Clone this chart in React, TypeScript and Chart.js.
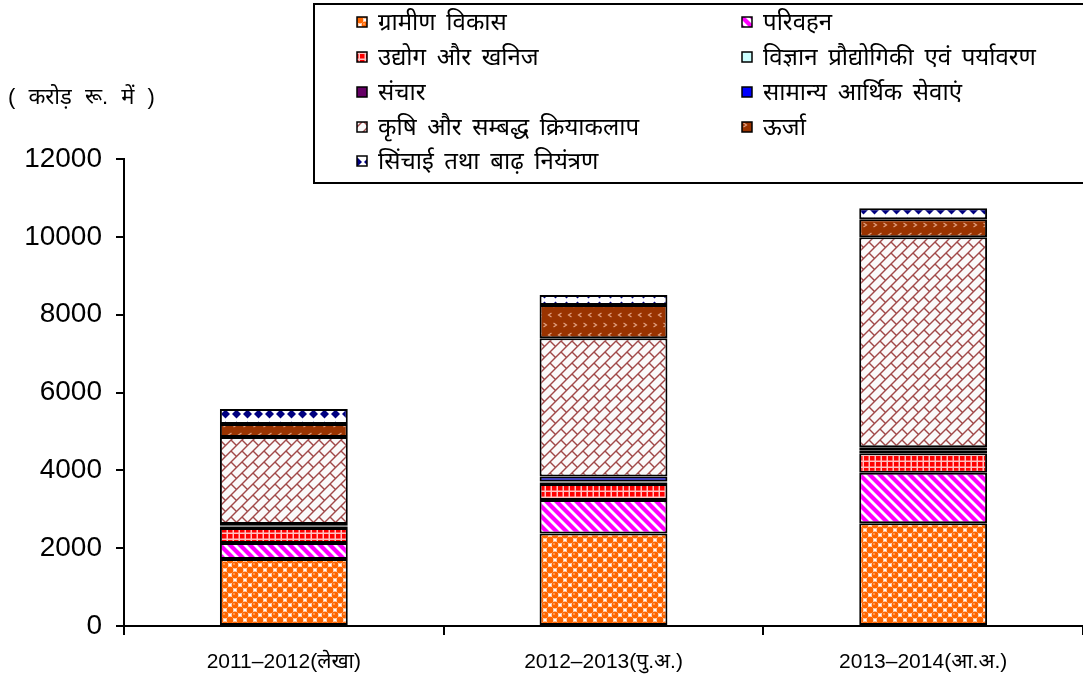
import React, { useEffect, useRef } from "react";
import { Chart, registerables } from "chart.js";

Chart.register(...registerables);

const categories = ["2011–2012(लेखा)", "2012–2013(पु.अ.)", "2013–2014(आ.अ.)"];
const rural = [1720, 2380, 2640];
const transport = [410, 860, 1300];
const industry = [385, 410, 500];
const science = [40, 40, 60];
const communication = [20, 20, 14];
const generalEco = [45, 130, 80];
const agriculture = [2235, 3555, 5396];
const energy = [334, 856, 463];
const irrigation = [386, 257, 282];
const yTicks = [0, 2000, 4000, 6000, 8000, 10000, 12000];

const names = [
  "ग्रामीण विकास",
  "परिवहन",
  "उद्योग और खनिज",
  "विज्ञान प्रौद्योगिकी एवं पर्यावरण",
  "संचार",
  "सामान्य आर्थिक सेवाएं",
  "कृषि और सम्बद्ध क्रियाकलाप",
  "ऊर्जा",
  "सिंचाई तथा बाढ़ नियंत्रण",
];
const seriesData = [rural, transport, industry, science, communication, generalEco, agriculture, energy, irrigation];

const FONT = "'Liberation Sans', Arial, 'Noto Sans', sans-serif";

function tile(w: number, h: number, draw: (c: CanvasRenderingContext2D) => void): CanvasPattern | string {
  const cv = document.createElement("canvas");
  cv.width = w;
  cv.height = h;
  const c = cv.getContext("2d")!;
  draw(c);
  const p = c.createPattern(cv, "repeat");
  return p || "#888";
}

function makePatterns(): (CanvasPattern | string)[] {
  const orange = tile(10, 10, (c) => {
    c.fillStyle = "#ffffff";
    c.fillRect(0, 0, 10, 10);
    c.fillStyle = "#ff6600";
    const pts = [[5, 5], [0, 0], [10, 0], [0, 10], [10, 10]];
    for (const [x, y] of pts) {
      c.beginPath();
      c.arc(x, y, 3.4, 0, Math.PI * 2);
      c.fill();
    }
    c.fillStyle = "#ffa060";
    c.beginPath();
    c.arc(4, 4, 1.1, 0, Math.PI * 2);
    c.fill();
  });
  const magenta = tile(10, 10, (c) => {
    c.fillStyle = "#ff00ff";
    c.fillRect(0, 0, 10, 10);
    c.strokeStyle = "#ffffff";
    c.lineWidth = 2.8;
    for (const o of [-10, 0, 10]) {
      c.beginPath();
      c.moveTo(o - 2, -2);
      c.lineTo(o + 12, 12);
      c.stroke();
    }
  });
  const red = tile(6, 6, (c) => {
    c.fillStyle = "#ff0000";
    c.fillRect(0, 0, 6, 6);
    c.fillStyle = "#ffc0c0";
    c.fillRect(4.5, 0, 1.5, 6);
    c.fillRect(0, 4.5, 6, 1.5);
  });
  const brick = tile(22, 22, (c) => {
    c.fillStyle = "#fafafa";
    c.fillRect(0, 0, 22, 22);
    c.strokeStyle = "#a04848";
    c.lineWidth = 1.4;
    for (let k = -3; k <= 6; k++) {
      const s = 11 * k;
      c.beginPath();
      c.moveTo(s + 20, -20);
      c.lineTo(s - 40, 40);
      c.stroke();
    }
    for (let k = -3; k <= 6; k++) {
      for (let j = -3; j <= 3; j++) {
        const t = (Math.abs(k) % 2) * 11 + 22 * j;
        const s1 = 11 * k;
        const s2 = 11 * (k + 1);
        c.beginPath();
        c.moveTo((s1 + t) / 2, (s1 - t) / 2);
        c.lineTo((s2 + t) / 2, (s2 - t) / 2);
        c.stroke();
      }
    }
  });
  const brown = tile(20, 20, (c) => {
    c.fillStyle = "#993300";
    c.fillRect(0, 0, 20, 20);
    c.strokeStyle = "#e0a080";
    c.lineWidth = 1.2;
    const chev = (x: number, y: number, dir: number) => {
      c.beginPath();
      c.moveTo(x - 1.5 * dir, y - 2);
      c.lineTo(x + 1.5 * dir, y);
      c.lineTo(x - 1.5 * dir, y + 2);
      c.stroke();
    };
    chev(5, 5, 1);
    chev(15, 5, 1);
    chev(10, 15, -1);
    chev(0, 15, -1);
    chev(20, 15, -1);
  });
  const navy = tile(11, 12, (c) => {
    c.fillStyle = "#ffffff";
    c.fillRect(0, 0, 11, 12);
    c.fillStyle = "#000080";
    c.beginPath();
    c.moveTo(5.5, 1.5);
    c.lineTo(10, 6);
    c.lineTo(5.5, 10.5);
    c.lineTo(1, 6);
    c.closePath();
    c.fill();
  });
  return [orange, magenta, red, "#ccffff", "#660066", "#0000ff", brick, brown, navy];
}

export default function App() {
  const ref = useRef<HTMLCanvasElement | null>(null);
  useEffect(() => {
    document.body.style.margin = "0";
    const fills = makePatterns();
    const legendPlugin = {
      id: "customLegend",
      afterDraw(chart: any) {
        const c: any = chart.ctx;
        c.save();
        // y unit label
        c.fillStyle = "#000";
        c.font = `22px ${FONT}`;
        c.textAlign = "left";
        c.textBaseline = "middle";
        c.wordSpacing = "7px";
        c.fillText("( करोड़ रू. में )", 8, 98);
        // legend box
        c.fillStyle = "#fff";
        c.fillRect(314, 4, 780, 179);
        c.strokeStyle = "#000";
        c.lineWidth = 2;
        c.strokeRect(314, 4, 780, 179);
        const cols = [357, 742];
        const rows = [22, 57, 92, 127, 161];
        c.wordSpacing = "4px";
        names.forEach((n: string, i: number) => {
          const col = i % 2;
          const row = Math.floor(i / 2);
          const x = cols[col];
          const y = rows[row];
          c.fillStyle = fills[i] as any;
          c.fillRect(x, y - 5, 10, 10);
          c.strokeStyle = "#000";
          c.lineWidth = 1.5;
          c.strokeRect(x, y - 5, 10, 10);
          c.fillStyle = "#000";
          c.font = `24px ${FONT}`;
          c.textBaseline = "middle";
          c.fillText(n, x + 21, y + 1);
        });
        c.restore();
      },
    };
    const chart = new Chart(ref.current!, {
      type: "bar",
      data: {
        labels: categories,
        datasets: names.map((n, i) => ({
          label: n,
          data: seriesData[i],
          backgroundColor: fills[i] as any,
          borderColor: "#000",
          borderWidth: 2,
          borderSkipped: false,
          barPercentage: 0.4,
          categoryPercentage: 1.0,
        })),
      },
      options: {
        animation: false,
        responsive: false,
        maintainAspectRatio: false,
        layout: { padding: { top: 159, left: 0, right: 0, bottom: 0 } },
        plugins: { legend: { display: false }, tooltip: { enabled: false } },
        scales: {
          x: {
            stacked: true,
            offset: true,
            grid: { display: true, drawOnChartArea: false, offset: true, tickLength: 9, color: "#000", lineWidth: 2 },
            border: { color: "#000", width: 2 },
            ticks: { color: "#000", font: { size: 21, family: FONT }, padding: 15 },
            afterFit(scale: any) {
              scale.height = 57;
            },
          },
          y: {
            stacked: true,
            min: 0,
            max: 12000,
            afterBuildTicks(scale: any) {
              scale.ticks = yTicks.map((v) => ({ value: v }));
            },
            grid: { display: true, drawOnChartArea: false, tickLength: 8, color: "#000", lineWidth: 2 },
            border: { color: "#000", width: 2 },
            ticks: {
              color: "#000",
              font: { size: 28, family: FONT },
              padding: 14,
              callback: (v: any) => String(v),
            },
            afterFit(scale: any) {
              scale.width = 124;
            },
          },
        },
      },
      plugins: [legendPlugin],
    });
    return () => chart.destroy();
  }, []);
  return (
    <div style={{ position: "absolute", left: 0, top: 0, width: 1083, height: 683 }}>
      <canvas ref={ref} width={1083} height={683} style={{ width: 1083, height: 683, display: "block" }} />
    </div>
  );
}
